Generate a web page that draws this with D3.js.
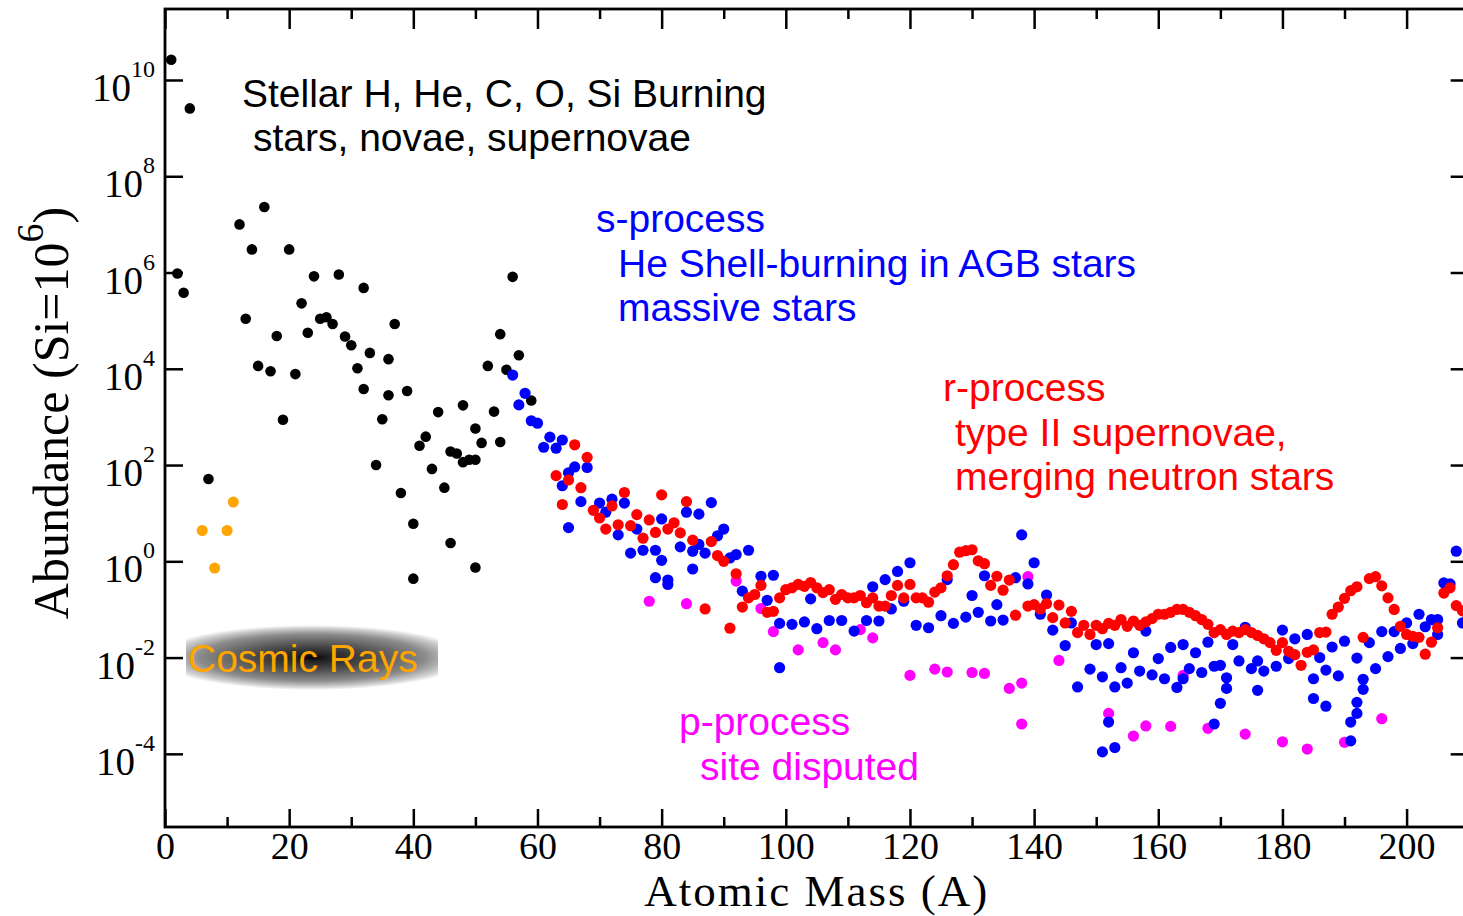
<!DOCTYPE html>
<html>
<head>
<meta charset="utf-8">
<script src="https://cdn.jsdelivr.net/npm/d3@7"></script>
<style>
  html, body { margin: 0; padding: 0; background: #fff; overflow: hidden; }
  svg { display: block; }
</style>
</head>
<body>
<svg id="chart" width="1463" height="916"></svg>
<script>
// Solar-system isotopic abundances (Si = 10^6) against mass number A.
// Abundances are kept as log10 values.

// Light nuclei: stellar H, He, C, O, Si burning
const lightA = [1, 2, 3, 4, 7, 12, 13, 14, 15, 16, 17, 18, 19, 20, 21, 22, 23, 24, 25, 26,
  27, 28, 29, 30, 31, 32, 32, 33, 34, 35, 36, 36, 37, 38, 39, 40, 40, 41, 42, 43,
  44, 45, 46, 46, 47, 48, 48, 49, 50, 50, 50, 51, 52, 53, 54, 54, 55, 56, 57, 59];
const lightLog = [10.42, 5.98, 5.58, 9.41, 1.71, 7.00, 5.04, 6.48, 4.06, 7.36, 3.95, 4.68, 2.94, 6.48, 3.89, 5.36, 4.75, 5.92, 5.04, 5.07,
  4.93, 5.96, 4.67, 4.49, 4.01, 5.68, 3.58, 4.33, 2.00, 2.95, 4.20, 3.45, 4.93, 1.42, 3.54, 0.78, -0.36, 2.40, 2.59, 1.92,
  3.10, 1.53, 0.38, 2.28, 2.24, 3.24, 2.06, 2.11, 2.76, 2.11, -0.13, 2.46, 4.06, 3.11, 4.72, 2.48, 3.98, 5.91, 4.28, 3.34];

// Li, Be, B from cosmic-ray spallation
const cosmicA = [6, 8, 10, 11];
const cosmicLog = [0.64, -0.14, 0.64, 1.23];

// s-process
const sA = [56, 57, 58, 59, 60, 61, 62, 63, 64, 64, 65, 65, 66, 67, 68, 70, 71, 72, 73, 74,
  75, 76, 77, 79, 79, 80, 80, 81, 81, 83, 84, 85, 85, 86, 86, 87, 88, 89, 90, 91,
  92, 93, 94, 96, 97, 98, 99, 99, 101, 103, 104, 105, 107, 109, 111, 113, 114, 115, 116, 117,
  118, 119, 120, 121, 123, 125, 126, 127, 129, 130, 131, 132, 133, 134, 135, 137, 138, 139, 140, 141,
  142, 143, 145, 146, 147, 149, 150, 151, 151, 152, 152, 153, 153, 154, 155, 156, 157, 158, 159, 160,
  161, 162, 163, 164, 164, 165, 166, 167, 168, 169, 169, 170, 170, 171, 171, 172, 173, 174, 175, 176,
  176, 177, 179, 180, 181, 182, 184, 185, 185, 186, 187, 187, 188, 189, 190, 191, 191, 192, 192, 192,
  193, 193, 194, 195, 196, 197, 198, 199, 200, 201, 202, 203, 204, 205, 205, 206, 207, 208, 209];
const sLog = [3.87, 3.25, 3.49, 2.92, 2.87, 2.37, 2.58, 2.35, 2.52, 1.57, 1.84, 0.70, 1.96, 1.24, 1.95, 1.21, 1.02, 1.29, 0.55, 1.21,
  0.17, 0.67, 0.23, 0.23, -0.34, 0.88, 0.02, -0.39, -0.48, 0.30, 1.02, 0.21, -0.16, 0.98, 0.35, 0.17, 1.22, 0.53, 0.67, 0.07,
  0.14, -0.62, 0.23, -0.31, -0.81, -0.29, -1.29, -2.21, -1.31, -1.26, -0.78, -1.40, -1.23, -1.23, -1.45, -1.23, -0.53, -1.24, -0.38, -0.99,
  -0.21, -0.83, -0.03, -1.33, -1.38, -1.13, -0.38, -1.29, -1.16, -0.71, -1.06, -0.30, -1.24, -0.90, -1.22, -0.34, 0.55, -0.47, -0.03, -1.10,
  -0.70, -1.43, -1.75, -1.28, -2.61, -2.24, -1.73, -2.40, -3.96, -1.71, -3.34, -2.61, -3.87, -2.21, -2.53, -1.90, -2.28, -1.45, -2.36, -2.02,
  -2.44, -1.79, -2.62, -1.73, -2.44, -2.23, -1.90, -2.31, -1.68, -2.18, -3.38, -2.16, -2.95, -2.42, -2.64, -1.73, -2.07, -1.37, -2.23, -2.07,
  -2.68, -2.28, -2.18, -1.43, -2.02, -1.61, -1.52, -2.44, -2.85, -2.00, -2.26, -3.01, -1.78, -2.38, -1.66, -3.34, -3.73, -2.01, -2.93, -3.16,
  -2.45, -2.66, -1.69, -2.23, -1.46, -1.98, -1.46, -1.81, -1.28, -1.71, -1.10, -1.36, -1.21, -1.21, -1.52, -0.45, -0.47, 0.21, -1.28];

// r-process
const rA = [63, 64, 65, 66, 67, 68, 69, 70, 71, 72, 73, 74, 75, 76, 77, 78, 79, 80, 81, 82,
  83, 84, 85, 87, 88, 89, 90, 91, 92, 93, 94, 95, 96, 97, 98, 99, 100, 101, 102, 103,
  104, 105, 106, 107, 108, 109, 110, 111, 112, 113, 114, 115, 116, 117, 118, 119, 120, 121, 122, 123,
  124, 125, 126, 127, 128, 129, 130, 131, 132, 133, 134, 135, 136, 137, 139, 140, 141, 142, 143, 144,
  145, 146, 147, 148, 149, 150, 151, 152, 153, 154, 155, 156, 157, 158, 159, 160, 161, 162, 163, 164,
  165, 166, 167, 168, 169, 170, 171, 172, 173, 174, 175, 176, 177, 178, 179, 180, 181, 182, 183, 184,
  185, 186, 187, 188, 189, 190, 191, 192, 193, 194, 195, 196, 197, 198, 199, 200, 201, 202, 203, 204,
  205, 206, 207, 208, 209];
const rLog = [1.78, 1.18, 1.69, 2.42, 1.53, 2.16, 1.06, 0.90, 0.67, 1.15, 0.76, 1.43, 0.74, 0.97, 0.48, 0.86, 0.60, 1.38, 0.67, 0.80,
  0.59, 1.24, 0.44, -0.99, 0.41, 0.12, 0.00, -1.39, -0.26, -0.95, -0.76, -0.69, -0.50, -1.06, -1.04, -0.76, -0.59, -0.55, -0.48, -0.52,
  -0.44, -0.55, -0.65, -0.59, -0.79, -0.69, -0.76, -0.76, -0.71, -0.86, -0.76, -0.93, -0.93, -0.71, -0.50, -0.76, -0.48, -0.76, -0.76, -0.85,
  -0.64, -0.55, -0.30, -0.07, 0.19, 0.22, 0.24, 0.01, -0.05, -0.50, -0.31, -0.60, -0.39, -1.12, -0.93, -0.90, -0.99, -0.88, -1.17, -0.91,
  -1.28, -1.04, -1.48, -1.33, -1.52, -1.33, -1.40, -1.29, -1.33, -1.21, -1.35, -1.24, -1.33, -1.26, -1.19, -1.10, -1.10, -1.06, -1.00, -1.00,
  -1.06, -1.13, -1.21, -1.31, -1.48, -1.42, -1.52, -1.45, -1.48, -1.42, -1.48, -1.54, -1.61, -1.69, -1.85, -1.69, -1.87, -1.94, -2.16, -1.89,
  -1.84, -1.48, -1.47, -1.10, -0.95, -0.77, -0.61, -0.53, -1.58, -0.36, -0.32, -0.51, -0.76, -1.00, -1.35, -1.52, -1.56, -1.58, -1.93, -1.68,
  -1.38, -0.66, -0.55, -0.92, -1.03];

// p-process
const pA = [78, 84, 92, 96, 98, 102, 106, 108, 112, 114, 120, 124, 126, 130, 132, 136, 138, 138, 139, 144,
  152, 156, 158, 162, 164, 168, 174, 180, 184, 190, 196];
const pLog = [-0.83, -0.88, -0.41, -0.98, -1.46, -1.84, -1.69, -1.84, -1.42, -1.59, -2.37, -2.24, -2.30, -2.31, -2.33, -2.64, -2.53, -3.38, -0.32, -2.06,
  -3.16, -3.63, -3.42, -3.43, -2.37, -3.47, -3.59, -3.75, -3.90, -3.76, -3.27];

// Axis ticks
const xMajorTicks = [0, 20, 40, 60, 80, 100, 120, 140, 160, 180, 200];
const xMinorTicks = [10, 30, 50, 70, 90, 110, 130, 150, 170, 190, 210];
const yTickExps = [-4, -2, 0, 2, 4, 6, 8, 10];

const svg = d3.select("#chart");
const plotLeft = 165, plotTop = 9, plotBottom = 827;
const plotRight = plotLeft + 210 * 6.208;

const x = d3.scaleLinear().domain([0, 210]).range([plotLeft, plotRight]);
const y = d3.scaleLog().domain([Math.pow(10, -5.52), Math.pow(10, 11.475)]).range([plotBottom, plotTop]);

const serif = "'Liberation Serif', 'Times New Roman', serif";
const sans = "'Liberation Sans', Arial, sans-serif";

// Cosmic-ray label backdrop: dark elliptical glow
const defs = svg.append("defs");
const grad = defs.append("radialGradient")
  .attr("id", "glow")
  .attr("cx", 0.5).attr("cy", 0.5).attr("r", 0.5)
  .attr("gradientTransform", "translate(0.5,0.5) scale(1.25,1) translate(-0.5,-0.5)");
[[0, "#000000"], [0.1, "#202020"], [0.4, "#505050"], [0.72, "#8c8c8c"], [0.9, "#cfcfcf"], [1, "#ffffff"]]
  .forEach(([o, c]) => grad.append("stop").attr("offset", o).attr("stop-color", c));

svg.append("rect")
  .attr("x", 186).attr("y", 625).attr("width", 252).attr("height", 65)
  .attr("fill", "url(#glow)");

// Data points
const plot = svg.append("g");
function drawSeries(A, L, color, r) {
  plot.append("g").selectAll("circle")
    .data(d3.zip(A, L))
    .join("circle")
    .attr("cx", d => x(d[0]))
    .attr("cy", d => y(Math.pow(10, d[1])))
    .attr("r", r)
    .attr("fill", color);
}
drawSeries(lightA, lightLog, "#000000", 5.3);
drawSeries(cosmicA, cosmicLog, "#ffa500", 5.5);
drawSeries(pA, pLog, "#ff00ff", 5.6);
drawSeries(sA, sLog, "#0000ff", 5.6);
drawSeries(rA, rLog, "#ff0000", 5.6);

// Frame and ticks
const axisStyle = g => {
  g.select(".domain").remove();
  g.selectAll(".tick line").attr("stroke", "#000").attr("stroke-width", 2.5);
};

svg.append("g").attr("transform", `translate(0,${plotBottom})`)
  .call(d3.axisBottom(x).tickValues(xMajorTicks).tickSizeInner(-18).tickSizeOuter(0).tickPadding(5))
  .call(axisStyle)
  .call(g => g.selectAll(".tick text")
    .attr("font-family", serif).attr("font-size", 38).attr("fill", "#000"));

svg.append("g").attr("transform", `translate(0,${plotBottom})`)
  .call(d3.axisBottom(x).tickValues(xMinorTicks).tickSizeInner(-10).tickSizeOuter(0).tickFormat(""))
  .call(axisStyle);

svg.append("g").attr("transform", `translate(0,${plotTop})`)
  .call(d3.axisTop(x).tickValues(xMajorTicks).tickSizeInner(-20).tickSizeOuter(0).tickFormat(""))
  .call(axisStyle);

svg.append("g").attr("transform", `translate(0,${plotTop})`)
  .call(d3.axisTop(x).tickValues(xMinorTicks).tickSizeInner(-10).tickSizeOuter(0).tickFormat(""))
  .call(axisStyle);

const yTickVals = yTickExps.map(e => Math.pow(10, e));
svg.append("g").attr("transform", `translate(${plotLeft},0)`)
  .call(d3.axisLeft(y).tickValues(yTickVals).tickSizeInner(-18).tickSizeOuter(0).tickFormat(""))
  .call(axisStyle);

svg.append("g").attr("transform", `translate(${plotRight},0)`)
  .call(d3.axisRight(y).tickValues(yTickVals).tickSizeInner(-18).tickSizeOuter(0).tickFormat(""))
  .call(axisStyle);

svg.append("rect")
  .attr("x", plotLeft).attr("y", plotTop)
  .attr("width", plotRight - plotLeft).attr("height", plotBottom - plotTop)
  .attr("fill", "none").attr("stroke", "#000").attr("stroke-width", 2.8);

// Power-of-ten labels on the abundance axis
const yLab = svg.append("g").attr("font-family", serif).attr("fill", "#000");
yTickExps.forEach(e => {
  const t = yLab.append("text")
    .attr("x", 155).attr("y", y(Math.pow(10, e)) + 21)
    .attr("text-anchor", "end");
  t.append("tspan").attr("font-size", 39).text("10");
  t.append("tspan").attr("font-size", 24).attr("dy", -24).text(String(e));
});

// Axis titles
svg.append("text")
  .attr("x", (plotLeft + plotRight) / 2).attr("y", 906)
  .attr("text-anchor", "middle")
  .attr("font-family", serif).attr("font-size", 45)
  .attr("letter-spacing", 2)
  .text("Atomic Mass (A)");

const yt = svg.append("text")
  .attr("transform", "translate(68,413) rotate(-90)")
  .attr("text-anchor", "middle")
  .attr("font-family", serif).attr("font-size", 50);
yt.append("tspan").text("Abundance (Si=10");
yt.append("tspan").attr("font-size", 38).attr("dy", -25).text("6");
yt.append("tspan").attr("dy", 25).text(")");

// Process annotations
function note(lines, color) {
  const g = svg.append("g").attr("font-family", sans).attr("font-size", 39).attr("fill", color);
  lines.forEach(([tx, ty, s]) => g.append("text").attr("x", tx).attr("y", ty).text(s));
}
note([[242, 107, "Stellar H, He, C, O, Si Burning"], [253, 151, "stars, novae, supernovae"]], "#000000");
note([[596, 232, "s-process"], [618, 277, "He Shell-burning in AGB stars"], [618, 321, "massive stars"]], "#0000ff");
note([[943, 401, "r-process"], [955, 446, "type II supernovae,"], [955, 490, "merging neutron stars"]], "#ff0000");
note([[679, 735, "p-process"], [700, 780, "site disputed"]], "#ff00ff");
note([[188, 672, "Cosmic Rays"]], "#ffa500");
</script>
</body>
</html>
